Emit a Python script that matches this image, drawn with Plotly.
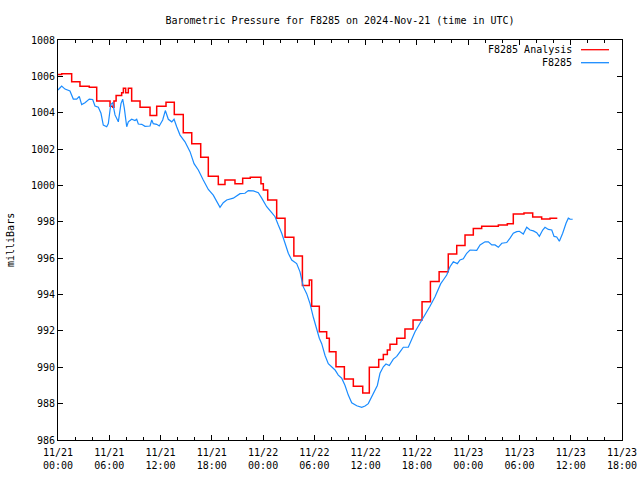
import pandas as pd
import plotly.graph_objects as go

# ---- data (hours since 2024-11-21 00:00 UTC) ----
obs_hours = [0.0, 0.43, 0.82, 1.40, 1.79, 2.19, 2.49, 2.77, 3.16, 3.66, 4.06, 4.33, 4.72, 5.03,
             5.30, 5.70, 5.89, 6.17, 6.40, 6.67, 7.06, 7.37, 7.57, 7.76, 8.04, 8.23, 8.62, 9.01,
             9.21, 9.40, 9.80, 10.18, 10.77, 10.97, 11.15, 11.55, 11.85, 12.25, 12.56, 12.91,
             13.31, 13.58, 13.89, 14.28, 14.86, 15.45, 15.92, 16.42, 17.00, 17.59, 18.17, 18.57,
             18.96, 19.34, 19.74, 20.51, 21.30, 21.88, 22.27, 22.86, 23.44, 23.84, 24.42, 25.01,
             25.40, 25.78, 26.18, 26.57, 26.95, 27.35, 27.93, 28.32, 28.71, 29.10, 29.49, 29.88,
             30.28, 30.58, 30.86, 31.25, 31.63, 32.03, 32.42, 32.80, 33.20, 33.59, 33.97, 34.37,
             34.96, 35.54, 35.93, 36.31, 36.71, 37.10, 37.37, 37.68, 38.07, 38.38, 38.77, 39.24,
             39.64, 40.02, 40.41, 40.99, 41.39, 41.78, 42.36, 42.95, 43.53, 44.12, 44.79, 45.09,
             45.49, 45.87, 46.26, 46.73, 47.04, 47.43, 47.83, 48.21, 49.00, 49.39, 49.97, 50.36,
             50.76, 51.14, 51.53, 51.93, 52.51, 52.90, 53.28, 53.68, 53.99, 54.45, 54.85, 55.24,
             55.63, 56.02, 56.33, 56.72, 56.99, 57.38, 57.78, 58.05, 58.36, 58.67, 59.06, 59.45,
             59.72, 59.92, 60.23]
obs_mb = [1005.25, 1005.47, 1005.30, 1005.20, 1004.75, 1004.75, 1004.90, 1004.45, 1004.55, 1004.75,
          1004.73, 1004.37, 1004.30, 1003.97, 1003.32, 1003.23, 1003.40, 1004.45, 1004.54, 1003.88,
          1003.50, 1004.50, 1004.75, 1004.25, 1003.23, 1003.50, 1003.64, 1003.57, 1003.64, 1003.38,
          1003.36, 1003.25, 1003.27, 1003.60, 1003.40, 1003.36, 1003.27, 1003.60, 1004.12, 1003.64,
          1003.50, 1003.64, 1003.23, 1002.77, 1002.40, 1001.86, 1001.20, 1000.85, 1000.30, 999.78,
          999.47, 999.10, 998.80, 999.05, 999.20, 999.30, 999.55, 999.57, 999.72, 999.70,
          999.60, 999.30, 998.83, 998.50, 998.28, 997.82, 997.37, 996.82, 996.27, 995.90,
          995.70, 995.25, 994.42, 994.05, 993.50, 992.75, 992.10, 991.60, 991.30, 990.65,
          990.20, 990.00, 989.85, 989.57, 989.40, 989.00, 988.47, 988.05, 987.88, 987.80,
          987.87, 988.00, 988.37, 988.70, 989.00, 989.67, 990.03, 990.18, 990.10, 990.45,
          990.60, 990.85, 991.10, 991.10, 991.50, 991.95, 992.42, 992.88, 993.36, 993.88,
          994.60, 994.80, 995.07, 995.53, 995.80, 995.70, 995.90, 995.97, 996.27, 996.45,
          996.43, 996.73, 996.90, 996.90, 996.73, 996.73, 996.60, 996.82, 996.86, 997.10,
          997.37, 997.46, 997.48, 997.33, 997.70, 997.55, 997.50, 997.40, 997.20, 997.55,
          997.70, 997.58, 997.55, 997.20, 997.17, 996.93, 997.37, 997.92, 998.20, 998.15,
          998.14]

ana_hours = [0.0, 0.43, 1.60, 2.57, 3.66, 4.53, 6.09, 6.40, 6.55, 6.80, 7.45, 7.65, 7.92, 8.23,
             8.62, 9.60, 10.77, 11.55, 12.64, 13.61, 14.66, 15.65, 16.70, 17.59, 18.76, 19.54,
             20.71, 21.61, 22.50, 23.44, 23.75, 24.03, 24.54, 25.59, 26.57, 27.60, 28.60, 29.41,
             29.69, 30.58, 31.44, 31.75, 32.53, 33.51, 34.56, 35.66, 36.43, 37.53, 38.07, 38.54,
             38.85, 39.64, 40.60, 41.55, 42.60, 43.58, 44.60, 45.67, 46.66, 47.63, 48.60, 49.58,
             51.53, 52.58, 53.28, 54.53, 55.55, 56.60, 57.58, 58.43]
ana_mb = [1006.10, 1006.15, 1005.70, 1005.45, 1005.40, 1004.65, 1004.35, 1004.30, 1004.65, 1004.95,
          1005.10, 1005.35, 1005.10, 1005.35, 1004.65, 1004.30, 1003.85, 1004.35, 1004.58, 1003.90,
          1002.90, 1002.30, 1001.55, 1000.50, 1000.05, 1000.30, 1000.10, 1000.40, 1000.45, 1000.45,
          1000.10, 999.75, 999.20, 998.20, 997.15, 996.12, 994.50, 994.80, 993.36, 991.95,
          991.60, 990.85, 990.03, 989.35, 988.96, 988.58, 990.00, 990.43, 990.70, 990.95,
          991.26, 991.60, 992.10, 992.60, 993.60, 994.72, 995.25, 996.23, 996.70, 997.27,
          997.63, 997.76, 997.82, 997.90, 998.43, 998.48, 998.26, 998.15, 998.20, 998.20]

start = pd.Timestamp("2024-11-21 00:00")
end = pd.Timestamp("2024-11-23 18:00")
obs_t = start + pd.to_timedelta(obs_hours, unit="h")
ana_t = start + pd.to_timedelta(ana_hours, unit="h")

FONT = "DejaVu Sans Mono"
RED = "#ff0000"
BLUE = "#1a8cff"

fig = go.Figure()
fig.add_trace(go.Scatter(x=ana_t, y=ana_mb, mode="lines", name="F8285 Analysis",
                         line=dict(color=RED, width=1.5, shape="hv")))
fig.add_trace(go.Scatter(x=obs_t, y=obs_mb, mode="lines", name="F8285",
                         line=dict(color=BLUE, width=1.2)))

L, R, T, B = 58, 18, 40, 40
W, H = 640, 480
pw, ph = W - L - R, H - T - B


def px(x):
    return (x - L) / pw


def py(y):
    return (H - B - y) / ph


# legend (gnuplot style: text on the left, sample on the right)
legend_items = [("F8285 Analysis", RED, 49.7), ("F8285", BLUE, 62.7)]
for name, col, yy in legend_items:
    fig.add_annotation(x=px(574), y=py(yy), xref="paper", yref="paper", text=name,
                       showarrow=False, xanchor="right", yanchor="middle",
                       font=dict(family=FONT, size=10, color="black"))
    fig.add_shape(type="line", xref="paper", yref="paper", x0=px(581), x1=px(609),
                  y0=py(yy), y1=py(yy), line=dict(color=col, width=1.3))

fig.add_annotation(x=px(10), y=0.5, xref="paper", yref="paper", text="milliBars",
                   textangle=-90, showarrow=False, xanchor="center", yanchor="middle",
                   font=dict(family=FONT, size=10, color="black"))

fig.update_layout(
    width=W, height=H,
    margin=dict(l=L, r=R, t=T, b=B),
    paper_bgcolor="white", plot_bgcolor="white",
    showlegend=False,
    font=dict(family=FONT, size=10, color="black"),
    title=dict(text="Barometric Pressure for F8285 on 2024-Nov-21 (time in UTC)",
               x=0.5, xref="paper", xanchor="center", y=1 - 20 / H, yanchor="middle",
               font=dict(family=FONT, size=10, color="black")),
)
fig.update_xaxes(type="date", range=[start, end], tick0=start, dtick=6 * 3600 * 1000,
                 tickformat="%m/%d<br>%H:%M", ticks="inside", ticklen=5, tickwidth=1,
                 tickcolor="black", showline=True, linecolor="black", linewidth=1,
                 mirror="ticks", showgrid=False, zeroline=False, automargin=False,
                 ticklabelstandoff=3,
                 minor=dict(dtick=2 * 3600 * 1000, ticks="inside", ticklen=3,
                            tickcolor="black", showgrid=False),
                 tickfont=dict(family=FONT, size=10))
fig.update_yaxes(range=[986, 1008], dtick=2, tick0=986, ticks="inside", ticklen=5,
                 tickcolor="black", showline=True, linecolor="black", linewidth=1,
                 mirror="ticks", showgrid=False, zeroline=False, automargin=False,
                 tickfont=dict(family=FONT, size=10))

fig.write_html("out.html", config={"displayModeBar": False},
               post_script="document.body.style.margin='0';")
